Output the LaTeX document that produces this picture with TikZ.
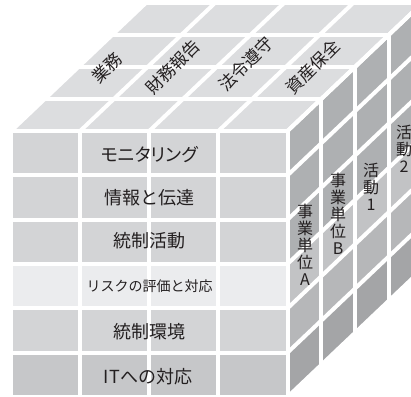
\documentclass[tikz,border=0pt]{standalone}
\usepackage{fontspec}
\newfontfamily\jp{Noto Sans CJK JP}
\newfontfamily\jpp[RawFeature=+palt]{Noto Sans CJK JP}
\definecolor{topc}{HTML}{DCDDDF}
\definecolor{frontc}{HTML}{D3D4D6}
\definecolor{frontl}{HTML}{EBECEE}
\definecolor{frontd}{HTML}{C6C7C9}
\definecolor{rightc}{HTML}{AEB0B2}
\definecolor{rightl}{HTML}{C2C3C5}
\definecolor{rightm}{HTML}{B6B7B9}
\definecolor{rightd}{HTML}{A4A5A7}
\definecolor{ink}{HTML}{231F20}
\begin{document}
\begin{tikzpicture}[x=1pt,y=-1pt,
  gapline/.style={draw=white,line width=4pt},
  frontlabel/.style={text=ink,inner sep=0pt,font=\jp\fontsize{18}{18}\selectfont},
  toplabel/.style={text=ink,inner sep=0pt,rotate=45,font=\jp\fontsize{17}{17}\selectfont},
  sidelabel/.style={text=ink,inner sep=0pt,align=center,font=\jp\fontsize{16}{17}\selectfont}]
\useasboundingbox[fill=white] (0,0) rectangle (411,396);
\def\xo{11}\def\yo{131}\def\cw{69.125}\def\rh{44.33}\def\dx{33.7}\def\dy{32}
\pgfmathsetmacro\xr{\xo+4*\cw}
% front face
\foreach \r/\col in {0/frontc,1/frontc,2/frontc,3/frontl,4/frontc,5/frontd}{
  \foreach \c in {0,...,3}{
    \fill[\col] ({\xo+\c*\cw},{\yo+\r*\rh}) rectangle ({\xo+(\c+1)*\cw},{\yo+(\r+1)*\rh});
  }}
% top face
\fill[topc] (\xo,\yo) -- (\xr,\yo) -- ({\xr+4*\dx},{\yo-4*\dy}) -- ({\xo+4*\dx},{\yo-4*\dy}) -- cycle;
% right face
\foreach \r/\col in {0/rightc,1/rightc,2/rightc,3/rightl,4/rightm,5/rightd}{
  \fill[\col] (\xr,{\yo+\r*\rh}) -- ({\xr+4*\dx},{\yo+\r*\rh-4*\dy}) -- ({\xr+4*\dx},{\yo+(\r+1)*\rh-4*\dy}) -- (\xr,{\yo+(\r+1)*\rh}) -- cycle;
}
% white gaps
\foreach \r in {0,...,6}{
  \draw[gapline] (\xo,{\yo+\r*\rh}) -- (\xr,{\yo+\r*\rh});
  \draw[gapline] (\xr,{\yo+\r*\rh}) -- ({\xr+4*\dx},{\yo+\r*\rh-4*\dy});
}
\foreach \c in {0,...,4}{
  \draw[gapline] ({\xo+\c*\cw},\yo) -- ({\xo+\c*\cw},{\yo+6*\rh});
  \draw[gapline] ({\xo+\c*\cw},\yo) -- ({\xo+\c*\cw+4*\dx},{\yo-4*\dy});
}
\foreach \k in {0,...,4}{
  \draw[gapline] ({\xo+\k*\dx},{\yo-\k*\dy}) -- ({\xr+\k*\dx},{\yo-\k*\dy});
  \draw[gapline] ({\xr+\k*\dx},{\yo-\k*\dy}) -- ({\xr+\k*\dx},{\yo+6*\rh-\k*\dy});
}
% front labels
\node[frontlabel,font=\jpp\fontsize{18}{18}\selectfont] (mon) at (149.5,154.5) {モニタリング};
\node[frontlabel] (inf) at (149.5,197.5) {情報と伝達};
\node[frontlabel] (act) at (149.5,241) {統制活動};
\node[frontlabel,font=\jp\fontsize{14}{14}\selectfont] (risk) at (149.5,286.5) {リスクの評価と対応};
\node[frontlabel] (env) at (149.5,332) {統制環境};
\node[frontlabel] (it) at (148,376.5) {ITへの対応};
% top labels
\node[toplabel] (gyo) at (107,67.5) {業務};
\node[toplabel] (zai) at (173,67) {財務報告};
\node[toplabel] (hou) at (246,63.5) {法令遵守};
\node[toplabel] (shi) at (313,67) {資産保全};
% side labels
\node[sidelabel] (ua) at (305,245) {事\\業\\単\\位\\A};
\node[sidelabel] (ub) at (338,213.5) {事\\業\\単\\位\\B};
\node[sidelabel] (a1) at (371,187) {活\\動\\1};
\node[sidelabel] (a2) at (404,148.5) {活\\動\\2};
\end{tikzpicture}
\end{document}
